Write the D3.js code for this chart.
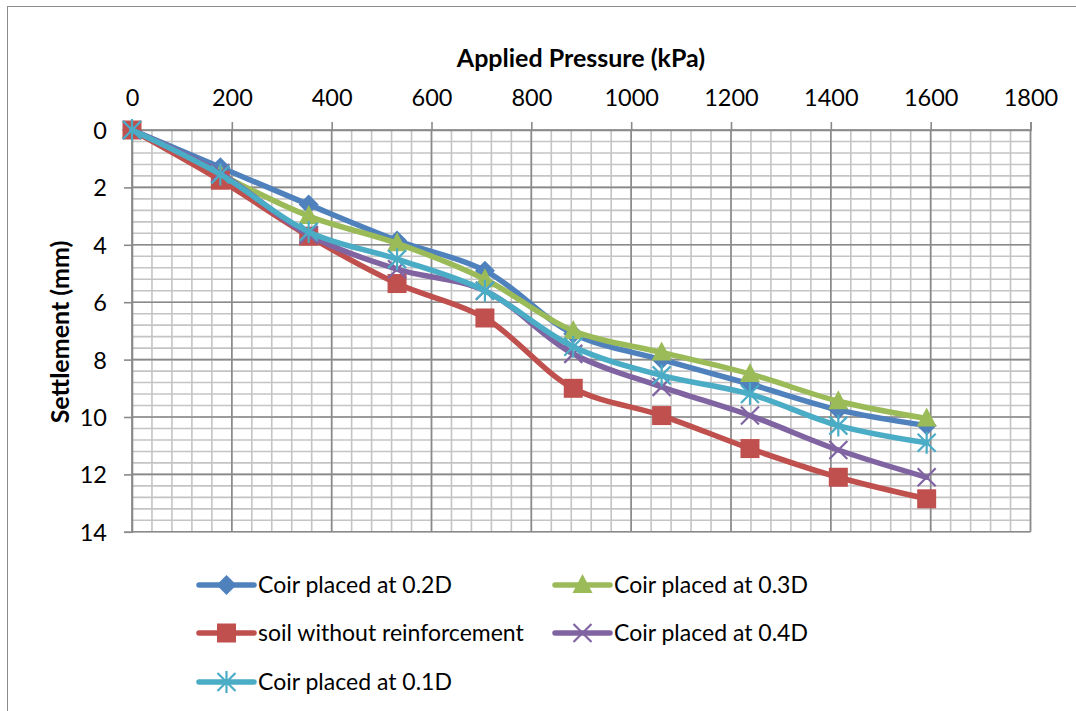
<!DOCTYPE html>
<html>
<head>
<meta charset="utf-8">
<script src="https://cdn.jsdelivr.net/npm/d3@7"></script>
<style>
  html, body { margin: 0; padding: 0; background: #fff; }
  svg { display: block; font-family: Lato, "Open Sans", sans-serif; }
</style>
</head>
<body>
<svg id="chart" width="1076" height="711"></svg>
<script>
// Applied pressure steps (kPa)
const pressure = [0, 177, 354, 531, 707, 884, 1061, 1238, 1415, 1592];

// Settlement (mm) for each test case
const coir02D = [0, 1.3, 2.6, 3.85, 4.9, 7.1, 8.0, 8.85, 9.75, 10.3];
const coir03D = [0, 1.55, 3.0, 3.95, 5.2, 7.0, 7.75, 8.5, 9.45, 10.05];
const soilOnly = [0, 1.75, 3.7, 5.35, 6.55, 9.0, 9.95, 11.1, 12.1, 12.85];
const coir04D = [0, 1.5, 3.65, 4.85, 5.6, 7.8, 8.95, 9.95, 11.15, 12.1];
const coir01D = [0, 1.55, 3.55, 4.5, 5.6, 7.55, 8.55, 9.2, 10.3, 10.9];

const seriesNames = ["Coir placed at 0.2D", "Coir placed at 0.3D", "soil without reinforcement", "Coir placed at 0.4D", "Coir placed at 0.1D"];

// Axis ticks
const xTicks = [0, 200, 400, 600, 800, 1000, 1200, 1400, 1600, 1800];
const yTicks = [0, 2, 4, 6, 8, 10, 12, 14];

const series = [
  { name: seriesNames[0], values: coir02D, color: "#4F81BD", marker: "diamond" },
  { name: seriesNames[1], values: coir03D, color: "#9BBB59", marker: "triangle" },
  { name: seriesNames[2], values: soilOnly, color: "#C0504D", marker: "square" },
  { name: seriesNames[3], values: coir04D, color: "#8064A2", marker: "x" },
  { name: seriesNames[4], values: coir01D, color: "#4BACC6", marker: "star" }
];

const svg = d3.select("#chart");

// outer chart frame
svg.append("rect")
  .attr("x", 7.5).attr("y", 6.5).attr("width", 1200).attr("height", 900)
  .attr("fill", "none").attr("stroke", "#8c8c8c").attr("stroke-width", 1);

const x = d3.scaleLinear().domain([0, 1800]).range([132, 1030.5]);
const y = d3.scaleLinear().domain([0, 14]).range([130, 531.8]);

const grid = svg.append("g");

// minor gridlines
const xMinor = d3.range(0, 1800 + 1, 40);
const yMinor = d3.range(0, 14 + 0.001, 0.4);
grid.selectAll("line.xm").data(xMinor).join("line")
  .attr("x1", d => x(d)).attr("x2", d => x(d))
  .attr("y1", y(0)).attr("y2", y(14))
  .attr("stroke", "#c4c4c4").attr("stroke-width", 1.6);
grid.selectAll("line.ym").data(yMinor).join("line")
  .attr("x1", x(0)).attr("x2", x(1800))
  .attr("y1", d => y(d)).attr("y2", d => y(d))
  .attr("stroke", "#c4c4c4").attr("stroke-width", 1.6);

// major gridlines
grid.selectAll("line.xM").data(xTicks).join("line")
  .attr("x1", d => x(d)).attr("x2", d => x(d))
  .attr("y1", y(0)).attr("y2", y(14))
  .attr("stroke", "#8a8a8a").attr("stroke-width", 1.6);
grid.selectAll("line.yM").data(yTicks).join("line")
  .attr("x1", x(0)).attr("x2", x(1800))
  .attr("y1", d => y(d)).attr("y2", d => y(d))
  .attr("stroke", "#8a8a8a").attr("stroke-width", 1.6);

// axes: x along the top, y reversed (settlement increases downward)
const xAxis = svg.append("g")
  .attr("transform", `translate(0,${y(0)})`)
  .call(d3.axisTop(x).tickValues(xTicks).tickSize(8).tickPadding(16).tickFormat(d3.format("d")));
const yAxis = svg.append("g")
  .attr("transform", `translate(${x(0)},0)`)
  .call(d3.axisLeft(y).tickValues(yTicks).tickSize(8).tickPadding(17).tickFormat(d3.format("d")));

[xAxis, yAxis].forEach(a => {
  a.select(".domain").attr("stroke", "#8a8a8a").attr("stroke-width", 1.6);
  a.selectAll(".tick line").attr("stroke", "#8a8a8a").attr("stroke-width", 1.6);
  a.selectAll(".tick text").attr("fill", "#000").attr("font-size", 23.5)
    .attr("font-family", "Lato, sans-serif");
});
yAxis.selectAll(".tick text").attr("dy", "0.36em");

// axis titles
svg.append("text")
  .attr("x", 581).attr("y", 67)
  .attr("text-anchor", "middle")
  .attr("font-weight", "bold").attr("font-size", 25)
  .text("Applied Pressure (kPa)");
svg.append("text")
  .attr("transform", "translate(69,332) rotate(-90)")
  .attr("text-anchor", "middle")
  .attr("font-weight", "bold").attr("font-size", 25)
  .text("Settlement (mm)");

// marker drawing
function drawMarker(g, type, color) {
  if (type === "diamond") {
    g.append("path").attr("d", "M0,-10L10,0L0,10L-10,0Z").attr("fill", color);
  } else if (type === "triangle") {
    g.append("path").attr("d", "M0,-11L10,8L-10,8Z").attr("fill", color);
  } else if (type === "square") {
    g.append("rect").attr("x", -9.5).attr("y", -9.5).attr("width", 19).attr("height", 19).attr("fill", color);
  } else if (type === "x") {
    g.append("path").attr("d", "M-9,-9L9,9M-9,9L9,-9")
      .attr("stroke", color).attr("stroke-width", 2.2).attr("fill", "none");
  } else if (type === "star") {
    g.append("path").attr("d", "M-9,-9L9,9M-9,9L9,-9M0,-11L0,11")
      .attr("stroke", color).attr("stroke-width", 2.2).attr("fill", "none");
  }
}

const line = d3.line()
  .x((d, i) => x(pressure[i]))
  .y(d => y(d))
  .curve(d3.curveCatmullRom.alpha(0.5));

const plot = svg.append("g");
series.forEach(s => {
  const g = plot.append("g");
  g.append("path")
    .attr("d", line(s.values))
    .attr("fill", "none").attr("stroke", s.color)
    .attr("stroke-width", 5.5).attr("stroke-linejoin", "round").attr("stroke-linecap", "round");
  s.values.forEach((v, i) => {
    const m = g.append("g").attr("transform", `translate(${x(pressure[i])},${y(v)})`);
    drawMarker(m, s.marker, s.color);
  });
});

// legend: two columns, row-major
const legendPos = [
  { lx: 199, ty: 585 }, { lx: 555, ty: 585 },
  { lx: 199, ty: 633 }, { lx: 555, ty: 633 },
  { lx: 199, ty: 682 }
];
series.forEach((s, i) => {
  const p = legendPos[i];
  const g = svg.append("g").attr("transform", `translate(${p.lx},${p.ty})`);
  g.append("line").attr("x1", 0).attr("x2", 55).attr("y1", 0).attr("y2", 0)
    .attr("stroke", s.color).attr("stroke-width", 5.5).attr("stroke-linecap", "round");
  const m = g.append("g").attr("transform", "translate(27.5,0)");
  drawMarker(m, s.marker, s.color);
  g.append("text").attr("x", 59).attr("y", 0).attr("dy", "0.36em")
    .attr("font-size", 23).attr("fill", "#000")
    .text(s.name);
});
</script>
</body>
</html>
